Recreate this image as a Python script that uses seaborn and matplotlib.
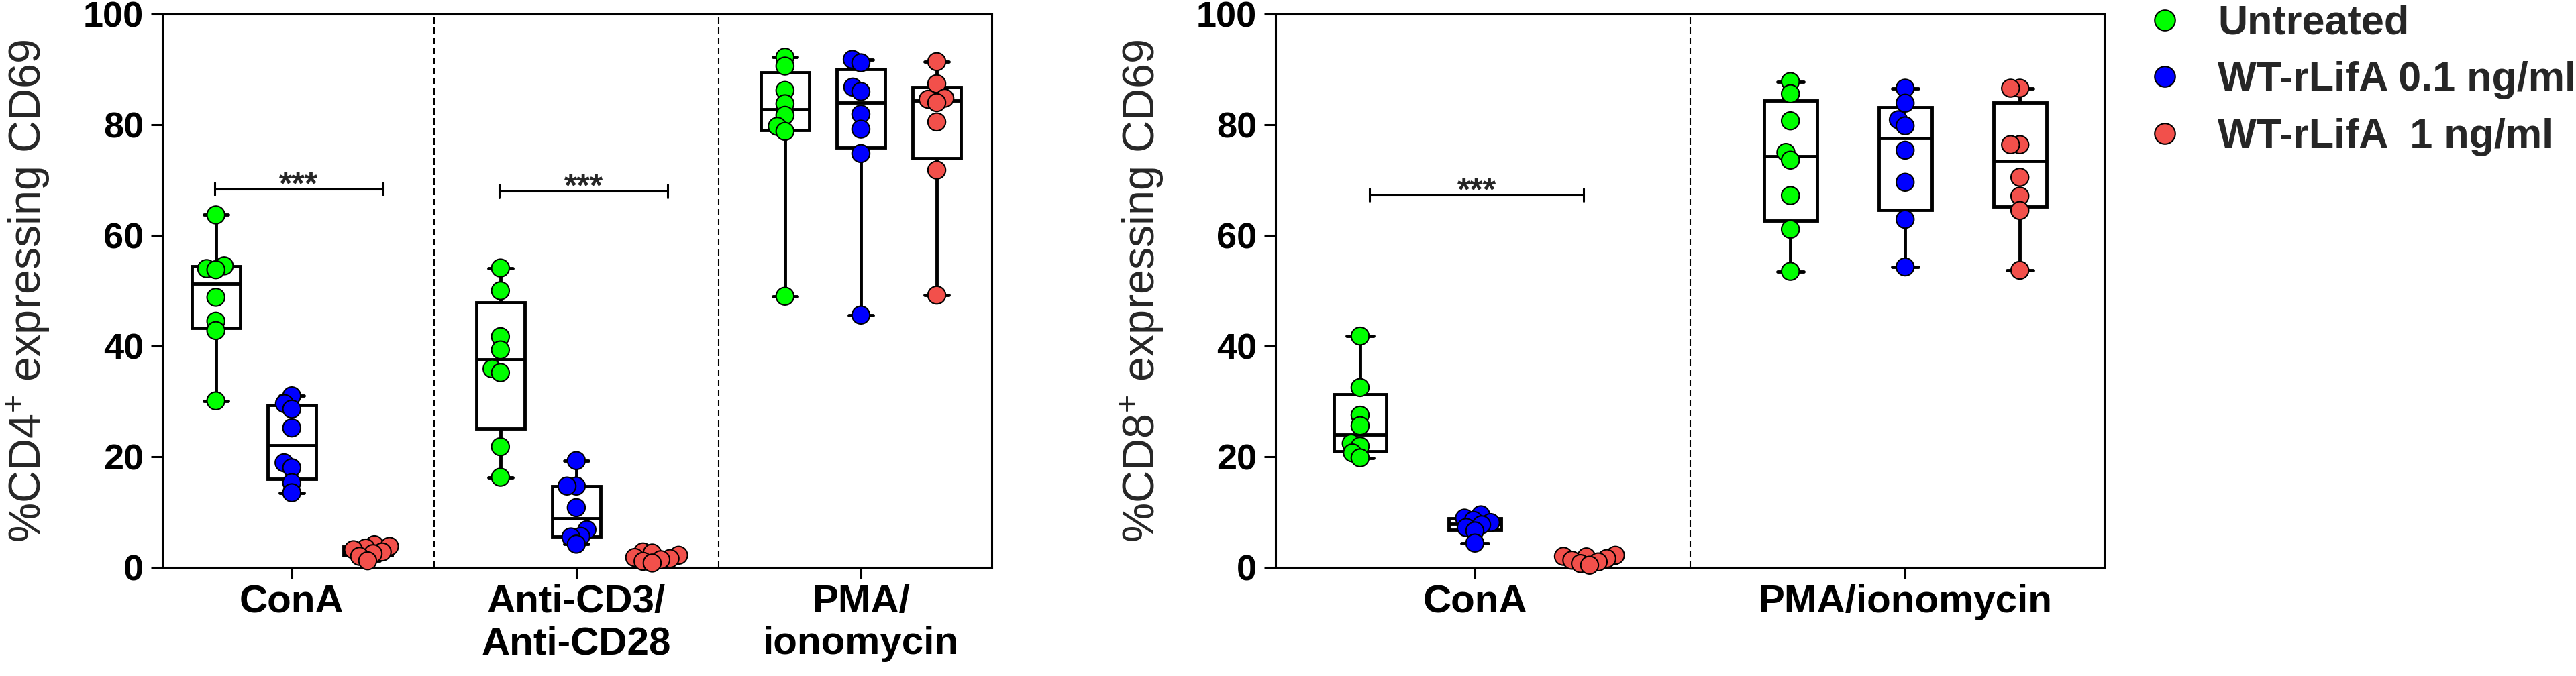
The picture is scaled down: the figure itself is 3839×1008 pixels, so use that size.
import numpy as np
import pandas as pd
import matplotlib
matplotlib.use("Agg")
import matplotlib.pyplot as plt
import seaborn as sns

groups = ["Untreated", "WT-rLifA 0.1 ng/ml", "WT-rLifA  1 ng/ml"]
group_colors = ["#00FF00", "#0000FF", "#F2504B"]

cd4_stims = ["ConA", "Anti-CD3/\nAnti-CD28", "PMA/\nionomycin"]
cd8_stims = ["ConA", "PMA/ionomycin"]

# %CD4+ CD69+ (one value per mouse), order follows `groups`
cd4_cona = [
    [63.7, 54.5, 54.0, 53.8, 48.8, 44.5, 42.8, 30.1],
    [31.0, 29.6, 28.6, 25.2, 18.9, 18.0, 15.3, 13.5],
    [4.1, 3.8, 3.5, 3.2, 2.8, 2.5, 2.0, 1.2],
]
cd4_cd3 = [
    [54.1, 50.0, 41.7, 39.3, 35.9, 35.2, 21.8, 16.3],
    [19.3, 14.7, 14.7, 10.8, 6.8, 5.6, 5.5, 4.2],
    [2.8, 2.6, 2.2, 1.8, 1.6, 1.4, 1.1, 0.8],
]
cd4_pma = [
    [92.2, 90.6, 86.2, 83.8, 81.7, 79.7, 78.8, 49.0],
    [91.8, 91.2, 86.8, 86.0, 81.9, 79.2, 74.8, 45.6],
    [91.4, 87.4, 84.8, 84.6, 84.0, 80.5, 71.8, 49.2],
]

# %CD8+ CD69+
cd8_cona = [
    [41.8, 32.5, 27.5, 25.6, 22.4, 21.9, 20.7, 19.8],
    [9.5, 8.9, 8.5, 8.1, 7.7, 7.2, 6.6, 4.4],
    [2.2, 2.0, 1.9, 1.6, 1.3, 1.0, 0.7, 0.4],
]
cd8_pma = [
    [87.8, 85.6, 80.7, 75.0, 73.6, 67.2, 61.1, 53.5],
    [86.6, 83.9, 80.9, 79.8, 75.4, 69.6, 62.9, 54.3],
    [86.6, 86.6, 76.4, 76.4, 70.5, 67.1, 64.5, 53.7],
]

# significance brackets: stimulus index, bracket height
cd4_sig_idx = [0, 1]
cd4_sig_y = [68.4, 68.0]
cd8_sig_idx = [0]
cd8_sig_y = [67.3]

DOT = 19       # marker diameter, pt
DOT_PACK = 8   # diameter used when packing the swarm (Prism lets dots overlap)


def make_frame(stims, values):
    rows = []
    for stim, per_group in zip(stims, values):
        for grp, vals in zip(groups, per_group):
            for v in vals:
                rows.append((stim, grp, v))
    return pd.DataFrame(rows, columns=["stim", "group", "value"])


# Prism draws quartiles with the (n+1)p rule, numpy default is linear
_boxplot_stats = matplotlib.cbook.boxplot_stats


def prism_boxplot_stats(X, *args, **kwargs):
    stats = _boxplot_stats(X, *args, **kwargs)
    for st, x in zip(stats, X):
        q = np.percentile(np.asarray(x, float), [25, 50, 75], method="weibull")
        st["q1"], st["med"], st["q3"] = q
    return stats


matplotlib.cbook.boxplot_stats = prism_boxplot_stats

sns.set_theme(style="ticks")
plt.rcParams["font.family"] = ["Liberation Sans", "DejaVu Sans"]
plt.rcParams["mathtext.default"] = "regular"
plt.rcParams["axes.linewidth"] = 2.2
plt.rcParams["axes.edgecolor"] = "black"

swarms = []


def draw_panel(ax, df, stims, gap, xlim, ylabel, sig_idx, sig_y, sig_span, legend):
    sns.boxplot(data=df, x="stim", y="value", hue="group", order=stims,
                hue_order=groups, palette=dict(zip(groups, ["white"] * 3)),
                linecolor="black", linewidth=3.5, whis=(0, 100),
                showfliers=False, width=0.8, gap=gap, legend=False, ax=ax)
    n_before = len(ax.collections)
    sns.swarmplot(data=df, x="stim", y="value", hue="group", order=stims,
                  hue_order=groups, palette=dict(zip(groups, group_colors)),
                  dodge=True, size=DOT_PACK, edgecolor="black", linewidth=1.5,
                  legend=legend, ax=ax)
    for c in ax.collections[n_before:]:
        c.set_zorder(4)
        c.set_clip_on(False)
        swarms.append(c)

    for i in range(len(stims) - 1):
        ax.axvline(i + 0.5, color="black", lw=1.5, dashes=(4.8, 2.4), zorder=0)

    for i, y in zip(sig_idx, sig_y):
        x0, x1 = i + sig_span[0], i + sig_span[1]
        ax.plot([x0, x1], [y, y], color="black", lw=2.2)
        ax.plot([x0, x0], [y - 1.15, y + 1.15], color="black", lw=2.2)
        ax.plot([x1, x1], [y - 1.15, y + 1.15], color="black", lw=2.2)
        ax.text((x0 + x1) / 2, y - 1.0, "***", ha="center", va="baseline",
                fontsize=36, fontweight="bold")

    ax.set_xlim(xlim)
    ax.set_ylim(0, 100)
    ax.set_yticks(range(0, 101, 20))
    ax.set_xlabel("")
    ax.set_ylabel(ylabel, fontsize=48)
    ax.yaxis.set_label_coords(-0.133, 0.5)
    ax.tick_params(axis="y", labelsize=39, length=12, width=2.2, pad=8, color="black")
    ax.tick_params(axis="x", labelsize=42, length=12, width=2.2, pad=6, color="black")
    for lbl in ax.get_xticklabels() + ax.get_yticklabels():
        lbl.set_fontweight("bold")
        lbl.set_color("black")
    for sp in ax.spines.values():
        sp.set_visible(True)
        sp.set_linewidth(2.2)


fig = plt.figure(figsize=(38.39, 10.08), dpi=100)
ax1 = fig.add_axes([0.0630, 0.1607, 0.3220, 0.8185])
ax2 = fig.add_axes([0.4952, 0.1607, 0.3217, 0.8185])

draw_panel(ax1, make_frame(cd4_stims, [cd4_cona, cd4_cd3, cd4_pma]), cd4_stims,
           0.36, (-0.455, 2.46), "%CD4$^{+}$ expressing CD69",
           cd4_sig_idx, cd4_sig_y, (-0.27, 0.32), False)
draw_panel(ax2, make_frame(cd8_stims, [cd8_cona, cd8_pma]), cd8_stims,
           0.54, (-0.463, 1.463), "%CD8$^{+}$ expressing CD69",
           cd8_sig_idx, cd8_sig_y, (-0.245, 0.253), True)

old = ax2.get_legend()
handles = old.legend_handles
labels = [t.get_text() for t in old.get_texts()]
old.remove()
for h in handles:
    if hasattr(h, "set_markersize"):
        h.set_markersize(22)
        h.set_markeredgewidth(1.5)
        h.set_markeredgecolor("black")
leg = ax2.legend(handles, labels, loc="upper left", bbox_to_anchor=(1.048, 1.017),
                 frameon=False, fontsize=44, handlelength=1.0, handletextpad=0.8,
                 borderpad=0, borderaxespad=0, labelspacing=0.45)
for t in leg.get_texts():
    t.set_fontweight("bold")

# pack the swarms with the small diameter, then freeze them and show full-size dots
fig.canvas.draw()
for c in swarms:
    c.__dict__.pop("draw", None)
    c.set_sizes([DOT ** 2])

fig.savefig("out.png", dpi=100, facecolor="white")
